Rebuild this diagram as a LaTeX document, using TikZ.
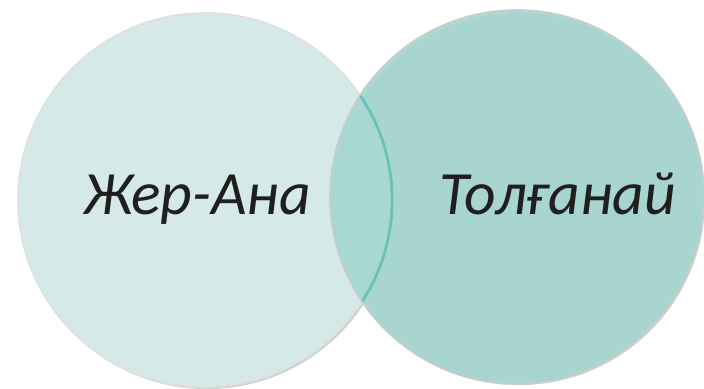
\documentclass[tikz,border=0pt]{standalone}
\usepackage{fontspec}
\setmainfont{Carlito}
\usetikzlibrary{positioning}
\definecolor{paleteal}{HTML}{D5EAE8}
\definecolor{midteal}{HTML}{A6D6D0}
\definecolor{lineteal}{HTML}{6CC2B7}
\begin{document}
\begin{tikzpicture}[x=0.01cm, y=-0.01cm,
    disc/.style={circle, inner sep=0pt, minimum size=3.74cm},
    word/.style={font=\fontsize{17.5}{21}\selectfont\itshape, text=black!88, inner sep=0pt, anchor=base}
  ]
    \useasboundingbox (0,0) rectangle (704,389);
    % soft shadows under the sets
    \fill[gray!35] (207,202) circle (1.87cm);
    \fill[gray!35] (519,199) circle (1.86cm);
    % the two sets
    \node[disc, fill=paleteal, draw=gray!25, line width=0.4pt] (jer) at (205,200) {};
    \node[disc, fill=midteal, fill opacity=0.92, draw=gray!40, line width=0.4pt] (tol) at (517,197) {};
    % edge of the left set seen through the right one
    \begin{scope}
      \clip (tol.center) circle (1.86cm);
      \draw[lineteal, line width=0.8pt] (jer.center) circle (1.87cm);
    \end{scope}
    % labels
    \node[word] (jerlbl) at (197,215) {Жер-Ана};
    \node[word] (tollbl) at (558,215) {Толғанай};
\end{tikzpicture}
\end{document}
